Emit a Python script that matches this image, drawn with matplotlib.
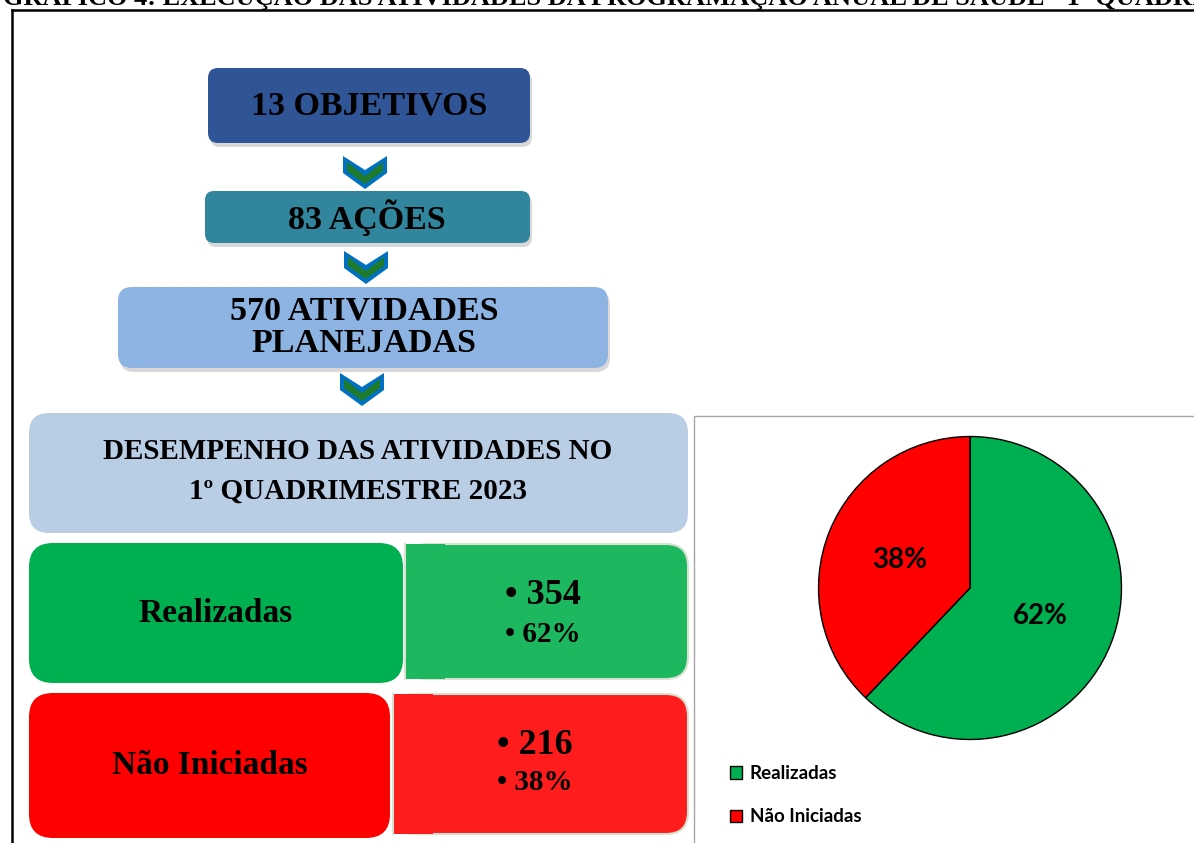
import matplotlib
matplotlib.use("Agg")
import matplotlib.pyplot as plt
from matplotlib.patches import FancyBboxPatch, Rectangle, Polygon

# data
title_text = "GRÁFICO 4: EXECUÇÃO DAS ATIVIDADES DA PROGRAMAÇÃO ANUAL DE SAÚDE - 1º QUADRIMESTRE 2023"
step_labels = ["13 OBJETIVOS", "83 AÇÕES", "570 ATIVIDADES\nPLANEJADAS"]
summary_label = "DESEMPENHO DAS ATIVIDADES NO\n1º QUADRIMESTRE 2023"
status_labels = ["Realizadas", "Não Iniciadas"]
status_counts = [354, 216]
status_pcts = [62, 38]
status_colors = ["#00B050", "#FF0000"]
value_colors = ["#1CB75F", "#FF1C1C"]

W, H = 1194, 843
SERIF = "Liberation Serif"
SANS = "Lato"

fig = plt.figure(figsize=(W / 100, H / 100), dpi=100)
ax = fig.add_axes([0, 0, 1, 1])
ax.set_xlim(0, W)
ax.set_ylim(H, 0)
ax.axis("off")


def box(x0, y0, x1, y1, color, r, shadow=False, edge="none", z=2):
    if shadow:
        ax.add_patch(FancyBboxPatch((x0 + 2, y0 + 4), x1 - x0, y1 - y0,
                                    boxstyle=f"round,pad=0,rounding_size={r}",
                                    fc="#7f7f7f", ec="none", alpha=0.3, zorder=z - 0.5))
    ax.add_patch(FancyBboxPatch((x0, y0), x1 - x0, y1 - y0,
                                boxstyle=f"round,pad=0,rounding_size={r}",
                                fc=color, ec=edge, lw=1.5, zorder=z))


def chevron(cx, top):
    outer = [(-22, 0), (0, 14), (22, 0), (22, 17), (0, 33), (-22, 17)]
    inner = [(-18, 6), (0, 20), (18, 6), (18, 15), (0, 28), (-18, 15)]
    ax.add_patch(Polygon([(cx + a, top + b) for a, b in outer], closed=True,
                         fc="#0070C0", ec="none", zorder=3))
    ax.add_patch(Polygon([(cx + a, top + b) for a, b in inner], closed=True,
                         fc="#1E7B2E", ec="none", zorder=4))


# frame and heading (cut at the top edge, as in the source page)
ax.plot([12, 12], [H, 10], color="black", lw=1.8, zorder=1)
ax.plot([12, W], [10, 10], color="black", lw=1.8, zorder=1)
ax.text(3, 5, title_text, fontsize=19, fontweight="bold", family=SERIF,
        ha="left", va="baseline", zorder=5)

# flow of boxes
box(208, 68, 530, 143, "#2F5597", 10, shadow=True)
ax.text(369, 106, step_labels[0], fontsize=24.5, fontweight="bold", family=SERIF,
        ha="center", va="center", zorder=5)
chevron(365, 156)

box(205, 191, 530, 243, "#31859C", 9, shadow=True)
ax.text(367, 218, step_labels[1], fontsize=24.5, fontweight="bold", family=SERIF,
        ha="center", va="center", zorder=5)
chevron(366, 251)

box(118, 287, 608, 368, "#8DB3E2", 14, shadow=True)
ax.text(364, 327, step_labels[2], fontsize=24.5, fontweight="bold", family=SERIF,
        ha="center", va="center", linespacing=1.08, zorder=5)
chevron(362, 373)

box(29, 413, 688, 533, "#B9CDE5", 20)
ax.text(358, 471, summary_label, fontsize=21, fontweight="bold", family=SERIF,
        ha="center", va="center", linespacing=1.6, zorder=5)

# status rows
rows = [(543, 683, 403, 405, 688, 596, 634, 505), (693, 838, 390, 393, 688, 745, 782, 497)]
for i, (y0, y1, xl, xv0, xv1, yn, yp, xt) in enumerate(rows):
    box(29, y0, xl, y1, status_colors[i], 24)
    ax.text((29 + xl) / 2, (y0 + y1) / 2, status_labels[i], fontsize=24,
            fontweight="bold", family=SERIF, ha="center", va="center", zorder=5)
    box(xv0, y0 + 1, xv1, y1 - 4, value_colors[i], 22, edge="#d9e2d0")
    ax.add_patch(Rectangle((xv0, y0 + 1), 40, y1 - y0 - 5, fc=value_colors[i],
                           ec="none", zorder=2.1))
    ax.plot([xv0, xv0], [y0 + 1, y1 - 4], color="#d9e2d0", lw=1.5, zorder=2.2)
    ax.text(xt, yn, "• " + str(status_counts[i]), fontsize=26, fontweight="bold",
            family=SERIF, ha="left", va="center", zorder=5)
    ax.text(xt, yp, f"• {status_pcts[i]}%", fontsize=21, fontweight="bold",
            family=SERIF, ha="left", va="center", zorder=5)

# pie panel
ax.add_patch(Rectangle((694, 416), 600, 500, fc="white", ec="#A6A6A6", lw=1, zorder=1))
cx, cy, r = 970, 588, 153
pax = fig.add_axes([(cx - r) / W, (H - cy - r) / H, 2 * r / W, 2 * r / H])
wedges, _, autotexts = pax.pie(status_counts, colors=status_colors, startangle=90,
                               counterclock=False, autopct="%1.0f%%", pctdistance=0.5,
                               radius=1, wedgeprops=dict(edgecolor="black", linewidth=1))
for t in autotexts:
    t.set_fontsize(20)
    t.set_fontweight("bold")
    t.set_family(SANS)
pax.set_xlim(-1.01, 1.01)
pax.set_ylim(-1.01, 1.01)
pax.axis("off")

ax.legend(wedges, status_labels, loc="upper left", bbox_to_anchor=(713, 748),
          bbox_transform=ax.transData, frameon=False, handlelength=0.65,
          handleheight=0.65, handletextpad=0.4, labelspacing=1.42,
          prop=dict(family=SANS, weight="bold", size=13.5))

fig.savefig("out.png", dpi=100)
